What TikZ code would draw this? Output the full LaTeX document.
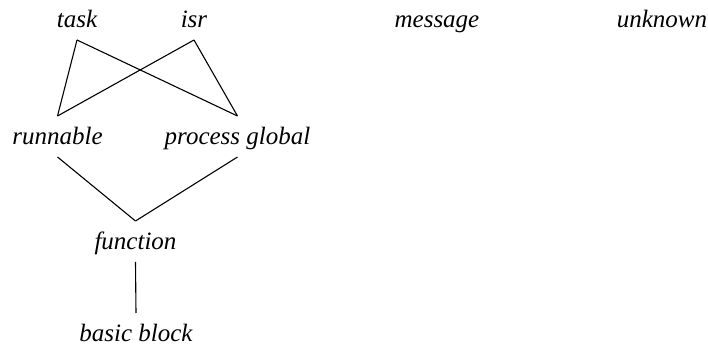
\documentclass[tikz,border=0pt]{standalone}
\usepackage{fontspec}
\setmainfont{Liberation Serif}
\begin{document}
\begin{tikzpicture}[x=0.5pt,y=-0.5pt,
  lbl/.style={font=\fontsize{12.5}{15}\selectfont\itshape, inner sep=0pt, outer sep=0pt,
    text height=14.5pt, text depth=6pt, anchor=base},
  conn/.style={line width=0.55pt}]
\useasboundingbox (0,0) rectangle (708,347);
\node[lbl] (task) at (77,28) {task};
\node[lbl] (isr) at (194,28) {isr};
\node[lbl] (message) at (437,28) {message};
\node[lbl] (unknown) at (662,28) {unknown};
\node[lbl] (runnable) at (57.5,145) {runnable};
\node[lbl] (pglobal) at (237.5,145) {process global};
\node[lbl] (function) at (135.5,250) {function};
\node[lbl] (bblock) at (136,342) {basic block};
\draw[conn] (task.south) -- (runnable.north);
\draw[conn] (task.south) -- (pglobal.north);
\draw[conn] (isr.south) -- (runnable.north);
\draw[conn] (isr.south) -- (pglobal.north);
\draw[conn] (runnable.south) -- (function.north);
\draw[conn] (pglobal.south) -- (function.north);
\draw[conn] (function.south) -- (bblock.north);
\end{tikzpicture}
\end{document}
